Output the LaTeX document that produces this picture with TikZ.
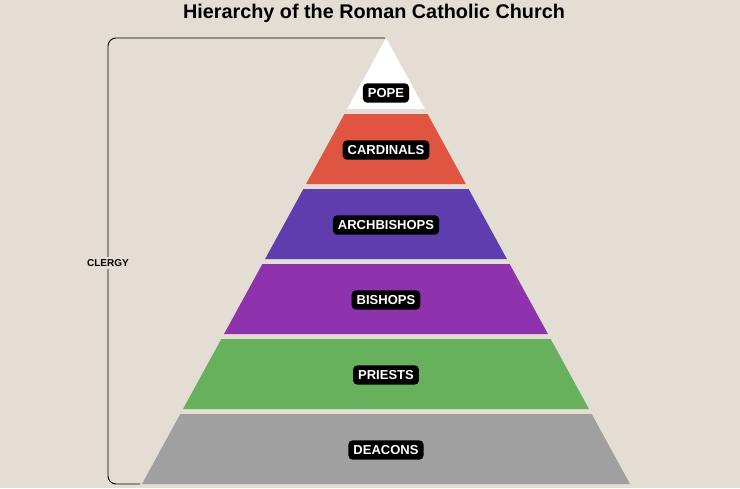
\documentclass[tikz,border=0pt]{standalone}
\usepackage{fontspec}
\setmainfont{Liberation Sans}
\definecolor{bg}{HTML}{E3DDD3}
\definecolor{cred}{HTML}{E05541}
\definecolor{cdpur}{HTML}{5E3DAE}
\definecolor{cpur}{HTML}{8E33AD}
\definecolor{cgreen}{HTML}{67B05C}
\definecolor{cgray}{HTML}{A0A0A0}
\begin{document}
\begin{tikzpicture}[x=1pt,y=-1pt,
  lab/.style={fill=black,text=white,font=\bfseries\fontsize{13}{13}\selectfont,rounded corners=4pt,inner xsep=5pt,inner ysep=5pt}]
\fill[bg] (0,0) rectangle (740,488);
\useasboundingbox (0,0) rectangle (740,488);
\node[font=\bfseries\fontsize{19.8}{20}\selectfont] (title) at (374,13) {Hierarchy of the Roman Catholic Church};
\foreach \t/\b/\y/\c/\name/\txt in {38/109/93/white/pope/POPE,114/184/150/cred/card/CARDINALS,189/259/225/cdpur/arch/ARCHBISHOPS,264/334/300/cpur/bish/BISHOPS,339/409/375/cgreen/pri/PRIESTS,414/484/450/cgray/dea/DEACONS}{
  \fill[\c] ({386-(\t-38)*0.5471},\t) -- ({386+(\t-38)*0.5471},\t) -- ({386+(\b-38)*0.5471},\b) -- ({386-(\b-38)*0.5471},\b) -- cycle;
  \node[lab] (\name) at (386,\y) {\txt};
}
\coordinate (bt) at (385,38);
\coordinate (bb) at (140,484);
\draw[line width=0.9pt,rounded corners=8pt] (bt) -- (108,38) -- (108,484) -- (bb);
\node[fill=bg,font=\bfseries\fontsize{10}{10}\selectfont,inner sep=2pt] (clergy) at (108,263) {CLERGY};
\end{tikzpicture}
\end{document}
